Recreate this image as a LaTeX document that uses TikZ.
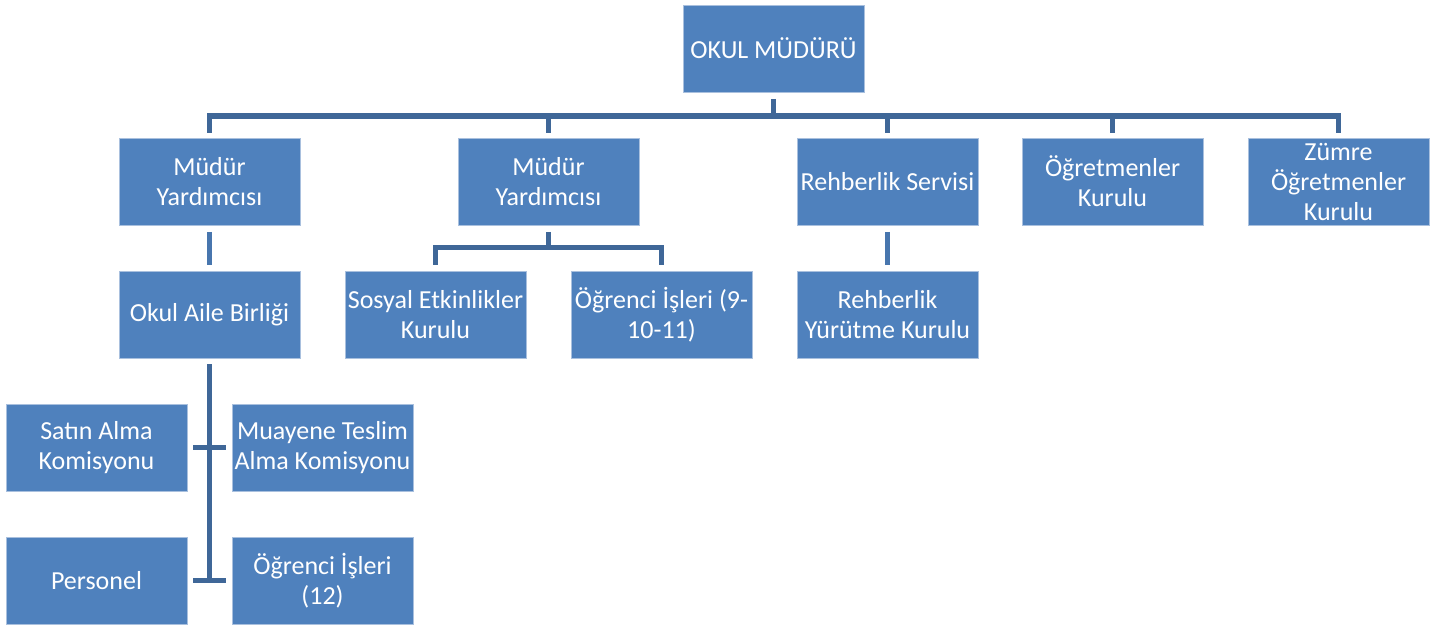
\documentclass[tikz,border=0pt]{standalone}
\usepackage{fontspec}
\setmainfont{Carlito}
\definecolor{boxblue}{HTML}{4F81BD}
\definecolor{boxedge}{HTML}{A9C0DE}
\definecolor{linkdark}{HTML}{3F6798}
\definecolor{linkmid}{HTML}{4876AE}
\begin{document}
\begin{tikzpicture}[x=1pt,y=-1pt,
  unit/.style={rectangle, fill=boxblue, draw=boxedge, line width=0.8pt,
    minimum width=181pt, minimum height=87pt, inner sep=0pt,
    align=center, text=white, font=\fontsize{26}{30}\selectfont},
  conn/.style={draw=linkdark, line width=5.5pt},
  solo/.style={draw=linkmid, line width=5.5pt, shorten <=6.5pt, shorten >=6pt}]
\useasboundingbox (0,0) rectangle (1437,624);

% top level
\node[unit] (mudur) at (773.5,48.5) {OKUL MÜDÜRÜ};

% second row
\node[unit] (my1) at (209.5,181.5) {Müdür\\Yardımcısı};
\node[unit] (my2) at (548.5,181.5) {Müdür\\Yardımcısı};
\node[unit] (rs)  at (887.5,181.5) {Rehberlik Servisi};
\node[unit] (ok)  at (1112.5,181.5) {Öğretmenler\\Kurulu};
\node[unit] (zok) at (1338.5,181.5) {Zümre\\Öğretmenler\\Kurulu};

% third row
\node[unit] (oab) at (209.5,314.5) {Okul Aile Birliği};
\node[unit] (sek) at (435.5,314.5) {Sosyal Etkinlikler\\Kurulu};
\node[unit] (oi)  at (661.5,314.5) {Öğrenci İşleri (9-\\10-11)};
\node[unit] (ryk) at (887.5,314.5) {Rehberlik\\Yürütme Kurulu};

% units under the parent association
\node[unit] (sak)  at (96.5,447.5)  {Satın Alma\\Komisyonu};
\node[unit] (mtak) at (322.5,447.5) {Muayene Teslim\\Alma Komisyonu};
\node[unit] (per)  at (96.5,580.5)  {Personel};
\node[unit] (oi12) at (322.5,580.5) {Öğrenci İşleri\\(12)};

% principal to the second row
\draw[conn, shorten <=6.5pt] (mudur.south) -- ++(0,23.5);
\foreach \c in {my1,my2,rs,ok,zok}
  \draw[conn, shorten >=5pt] (mudur.south) ++(0,23.5) -| (\c.north);

% second assistant to its two units
\draw[conn, shorten <=6.5pt] (my2.south) -- ++(0,22);
\foreach \c in {sek,oi}
  \draw[conn, shorten >=6pt] (my2.south) ++(0,22) -| (\c.north);

% single links
\draw[solo] (my1.south) -- (oab.north);
\draw[solo] (rs.south) -- (ryk.north);

% parent association to its four units
\draw[conn, shorten <=6pt] (oab.south) -- (oab.south |- per.east);
\draw[conn, shorten <=6pt, shorten >=6pt] (sak.east) -- (mtak.west);
\draw[conn, shorten <=6pt, shorten >=6pt] (per.east) -- (oi12.west);
\end{tikzpicture}
\end{document}
